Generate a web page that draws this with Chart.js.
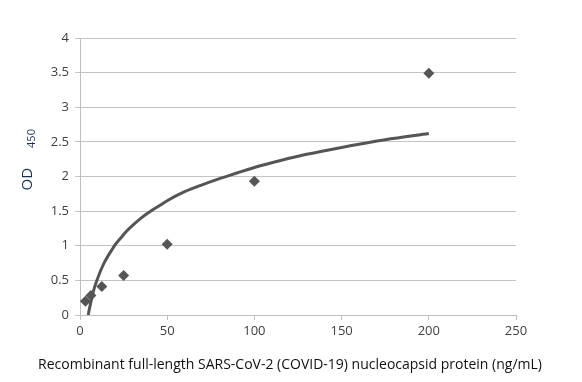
<!DOCTYPE html>
<html><head><meta charset="utf-8">
<script src="https://cdn.jsdelivr.net/npm/chart.js@4/dist/chart.umd.min.js"></script>
<style>html,body{margin:0;padding:0;background:#fff;}#wrap{width:582px;height:382px;}</style>
</head><body><div id="wrap"><canvas id="c" width="582" height="382"></canvas></div>
<script>
const concentrations = [3.125, 6.25, 12.5, 25, 50, 100, 200];
const odValues = [0.20, 0.28, 0.41, 0.57, 1.02, 1.93, 3.49];
const fitX = [4.75, 5, 5.5, 6, 7, 8, 9, 10, 12, 14, 16, 18, 20, 23, 26, 30, 35, 40, 45, 50, 60, 70, 80, 90, 100, 115, 130, 150, 175, 200];
const fitY = [0.00, 0.04, 0.10, 0.16, 0.27, 0.37, 0.45, 0.52, 0.65, 0.76, 0.85, 0.93, 1.01, 1.10, 1.19, 1.29, 1.40, 1.49, 1.57, 1.65, 1.78, 1.88, 1.97, 2.05, 2.13, 2.23, 2.32, 2.42, 2.53, 2.62];
const xTicks = [0, 50, 100, 150, 200, 250];
const yTicks = [0, 0.5, 1, 1.5, 2, 2.5, 3, 3.5, 4];
const xTitle = 'Recombinant full-length SARS-CoV-2 (COVID-19) nucleocapsid protein (ng/mL)';
const yTitleMain = 'OD';
const yTitleSub = '450';

const FONT = "'Open Sans', 'Liberation Sans', sans-serif";

const titlesPlugin = {
  id: 'titles',
  afterDraw(chart) {
    const ctx = chart.ctx;
    const area = chart.chartArea;
    // y title with subscript
    const start = (area.top + area.bottom) / 2 + 14;
    ctx.save();
    ctx.fillStyle = '#1a2f4f';
    ctx.textBaseline = 'alphabetic';
    ctx.textAlign = 'left';
    ctx.translate(32, start);
    ctx.rotate(-Math.PI / 2);
    ctx.font = "15px " + FONT;
    const w1 = ctx.measureText(yTitleMain).width;
    ctx.fillText(yTitleMain, 0, 0);
    ctx.font = "11px " + FONT;
    ctx.fillText(yTitleSub, w1 + 20, 3);
    ctx.restore();
    // x title
    ctx.save();
    ctx.fillStyle = '#111111';
    ctx.font = "14px " + FONT;
    ctx.textAlign = 'center';
    ctx.textBaseline = 'middle';
    ctx.fillText(xTitle, (area.left + area.right) / 2 - 8, chart.height - 17);
    ctx.restore();
  }
};

new Chart(document.getElementById('c'), {
  type: 'scatter',
  data: {
    datasets: [
      {
        label: 'Fit',
        data: fitX.map((x, i) => ({x: x, y: fitY[i]})),
        showLine: true,
        borderColor: '#555555',
        borderWidth: 3,
        pointRadius: 0,
        cubicInterpolationMode: 'monotone',
        fill: false
      },
      {
        label: 'OD',
        data: concentrations.map((x, i) => ({x: x, y: odValues[i]})),
        pointStyle: 'rectRot',
        pointRadius: 5.5,
        backgroundColor: '#555555',
        borderColor: '#555555',
        borderWidth: 0
      }
    ]
  },
  plugins: [titlesPlugin],
  options: {
    responsive: false,
    animation: false,
    layout: {padding: {left: 0, right: 66, top: 38, bottom: 0}},
    plugins: {legend: {display: false}, tooltip: {enabled: false}},
    scales: {
      x: {
        type: 'linear',
        min: 0, max: 250,
        afterBuildTicks(axis) { axis.ticks = xTicks.map(v => ({value: v})); },
        afterFit(axis) { axis.height = 67; },
        grid: {display: true, drawOnChartArea: false, drawTicks: true, tickLength: 5, color: '#bfbfbf'},
        border: {display: true, color: '#bfbfbf', width: 1},
        ticks: {color: '#404040', font: {family: FONT, size: 13}, padding: 3, maxRotation: 0,
                callback: v => String(v)},
        title: {display: false}
      },
      y: {
        min: 0, max: 4,
        afterBuildTicks(axis) { axis.ticks = yTicks.map(v => ({value: v})); },
        afterFit(axis) { axis.width = 80; },
        grid: {display: true, drawOnChartArea: true, drawTicks: true, tickLength: 5, color: '#c4c4c4'},
        border: {display: true, color: '#bfbfbf', width: 1},
        ticks: {color: '#404040', font: {family: FONT, size: 13}, padding: 6, callback: v => String(v)}
      }
    }
  }
});
</script>
</body></html>
